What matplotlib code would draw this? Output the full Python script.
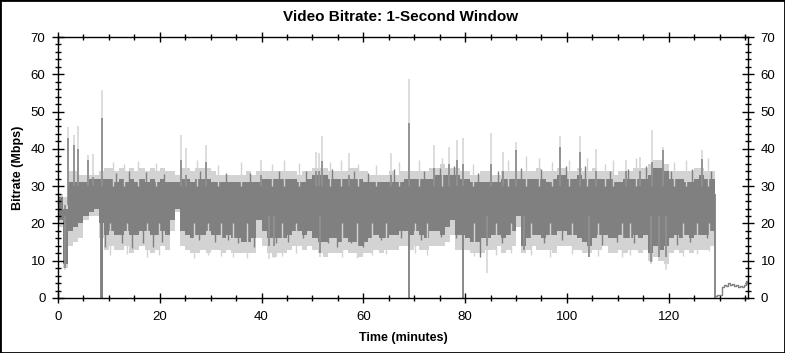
import numpy as np
import matplotlib; matplotlib.use("Agg")
import matplotlib.pyplot as plt
from matplotlib.ticker import MultipleLocator

plt.rcParams['font.family'] = ['Liberation Sans', 'DejaVu Sans']

LIGHT = "#d3d3d3"; DARK = "#808080"

# per-minute envelopes, minutes 0..128 (values in Mbps)
light_hi = [28,27,34,34,33,33,33,33,34,35, 35,34,35,34,35,34,35,34,35,34,
            35,34,34,33,35,35,34,35,35,35, 34,33,33,33,33,33,33,34,33,34,
            34,34,34,34,34,34,34,33,34,34, 35,35,35,34,34,34,34,35,35,34,
            34,33,33,33,33,34,33,34,34,34, 34,34,34,35,35,36,35,35,35,34,
            34,33,33,34,34,33,33,34,34,34, 34,34,34,34,35,34,34,34,35,35,
            34,34,35,34,34,35,34,34,34,33, 34,34,34,35,35,35,36,37,37,36,
            34,34,34,34,34,35,35,34,34]
dark_hi  = [27,24,31,31,31,31,32,32,32,32, 32,31,32,31,32,31,32,31,32,31,
            32,31,31,31,32,32,31,32,32,32, 31,31,31,31,31,31,31,31,31,31,
            32,32,32,32,32,32,32,31,31,32, 33,33,33,32,32,32,32,32,32,32,
            31,31,31,31,31,31,31,31,32,32, 32,32,32,32,33,33,33,33,33,32,
            32,31,31,31,31,31,31,32,32,32, 32,32,32,32,32,32,31,32,33,33,
            32,32,33,32,32,32,32,32,32,31, 31,32,32,32,32,32,33,35,35,34,
            32,32,32,31,31,32,33,32,32]
dark_lo  = [21, 9,18,19,20,22,23,24,20,17, 18,17,17,18,17,17,18,18,17,17,
            18,17,21,24,18,17,16,17,17,18, 17,17,16,17,16,16,15,15,16,21,
            18,16,16,16,16,17,18,18,17,18, 16,15,15,16,16,15,16,15,15,14,
            15,16,17,16,16,17,17,18,18,17, 18,17,16,18,18,17,19,21,17,17,
            16,15,15,16,16,17,17,16,17,18, 22,14,16,17,17,16,17,17,18,18,
            17,17,16,15,14,16,17,17,16,16, 17,16,16,17,16,17,12,14,13,14,
            16,17,16,17,16,17,17,17,18]
light_lo = [19, 8,14,15,16,21,22,22,16,13, 14,13,13,14,12,13,14,13,12,13,
            14,13,18,23,14,13,12,12,13,12, 13,13,12,13,12,12,12,12,12,16,
            14,12,11,12,12,13,14,14,13,14, 13,12,11,12,12,12,13,12,12,11,
            12,12,13,12,13,13,13,14,14,13, 14,13,13,14,14,14,15,17,13,13,
            13,12,12,12,13,13,14,12,13,14, 19,12,13,14,13,13,13,12,14,14,
            14,13,13,12,12,13,13,14,12,12, 13,12,13,13,12,13,10,11,10, 9,
            12,13,12,13,12,13,13,13,14]

# big upward spikes: minute, light peak, dark peak
up_t     = [1.9,3.1,4.0,5.8,6.9,8.6,24.2,25.2,29.1,39.9,50.7,51.3,51.9,57.2,65.4,69.0,73.9,76.8,
            78.4,79.5,85.1,87.5,90.0,98.6,102.6,105.8,111.7,114.4,116.8,118.9,126.5]
up_light = [45.9,43.7,46.1,38.3,38.6,55.8,43.7,40.2,41.0,37.0,39.2,38.8,43.4,39.0,38.8,58.7,41.0,40.6,
            42.4,43.0,44.3,39.2,41.9,43.4,43.4,39.9,36.9,37.9,45.0,40.6,39.7]
up_dark  = [42.8,41.0,40.0,37.0,32.5,48.4,37.0,33.0,36.5,33.0,34.0,34.0,36.8,33.0,33.0,47.0,35.0,36.0,
            37.0,36.0,36.0,34.0,39.7,40.6,39.2,34.0,34.0,34.0,36.5,39.8,37.2]
# big downward spikes: minute, light low, dark low
dn_t     = [1.3,41.5,42.5,51.5,84.3,91.5,104.3,116.5,118.2,119.4]
dn_light = [7.5,10.4,10.7,11.0,6.6,12.0,11.0,9.0,11.0,7.5]
dn_dark  = [8.0,14.0,14.0,12.0,14.0,12.9,11.1,9.7,11.1,11.0]

# smaller hairlines along the band edges
hair_dd_t = [9.2,12.5,14.5,16.8,18.7,20.4,27.8,30.8,33.4,35.4,38.6,42.9,45.2,48.1,53.0,54.9,57.6,
             59.9,63.5,67.4,71.3,75.3,78.2,83.0,87.3,95.5,99.1,107.0,109.8,113.1,121.6,124.2,127.5]
hair_dd_v = [13.7,14.7,13.3,14.7,13.7,15.1,15.5,15.1,15.5,14.7,13.7,14.7,15.1,16.0,14.7,13.7,14.7,
             13.7,15.5,16.0,15.5,16.4,16.0,10.9,14.7,14.7,15.5,14.3,15.1,14.7,14.3,15.1,16.0]
hair_ld_t = [10.3,13.6,17.5,19.8,26.8,29.5,32.0,34.3,37.2,44.0,46.8,55.8,58.7,61.8,64.5,70.2,72.5,
             81.8,86.0,89.0,93.0,96.6,101.0,106.2,110.8,112.4,122.8,125.5,128.0]
hair_ld_v = [11.5,11.8,11.0,11.6,10.7,11.5,11.3,11.0,10.8,11.2,12.0,11.0,10.8,11.5,11.8,12.0,11.6,
             11.2,11.5,12.0,11.4,11.0,11.8,11.3,11.0,11.5,11.2,11.8,12.5]
hair_lu_t = [10.8,13.0,15.8,19.2,27.3,31.5,35.9,42.0,44.5,47.3,53.5,55.6,59.0,62.5,67.0,71.0,75.5,
             81.5,88.5,92.0,94.5,97.0,100.5,104.0,107.5,109.0,113.5,121.0,123.5,127.8]
hair_lu_v = [36.5,36.0,36.8,36.2,37.0,35.8,36.5,36.0,37.0,36.2,36.5,37.0,36.0,35.8,36.5,37.0,37.5,
             36.0,37.0,38.0,37.5,36.5,37.0,37.5,36.0,37.0,37.5,36.5,37.0,37.5]
hair_du_t = [11.4,14.0,17.2,20.8,28.0,33.0,37.8,43.5,48.8,53.8,58.2,61.0,66.0,72.0,75.0,77.8,82.5,
             86.5,91.0,95.0,99.8,103.5,108.5,112.0,115.5,120.5,124.5,128.3]
hair_du_v = [33.5,34.0,33.8,33.2,34.0,33.5,33.5,34.0,34.0,34.5,34.0,33.5,34.5,34.0,35.0,35.5,33.5,
             34.0,35.0,34.5,35.5,35.5,34.0,34.5,35.5,34.0,34.5,34.0]

# drops to zero: minute, top of the drop line
drop_t   = [8.4,8.55,8.7,69.0,79.5,129.1]
drop_top = [30,30,30,30,28,28]
# tail after the end of the main title
tail_t = [129.2,129.6,130.0,130.4,130.8,131.2,131.6,132.0,132.4,132.8,133.2,133.6,134.0,134.4,134.8,135.2,135.5]
tail_v = [0.5,0.7,0.9,2.9,3.6,3.2,3.9,3.4,3.7,3.1,3.5,3.0,3.3,2.9,3.6,4.5,4.0]

W, H = 785, 353
fig = plt.figure(figsize=(W/100, H/100), dpi=100)
ax = fig.add_axes([58/W, 1-298/H, (748-58)/W, (298-37)/H])

mins = np.arange(len(light_hi) + 1, dtype=float); mins[-1] = 129.1
def ext(a): return list(a) + [a[-1]]
ax.fill_between(mins, ext(light_lo), ext(light_hi), step="post", color=LIGHT, lw=0)
ax.fill_between(mins, ext(dark_lo), ext(dark_hi), step="post", color=DARK, lw=0)
ax.vlines(hair_lu_t, 30, hair_lu_v, color=LIGHT, lw=1.0)
ax.vlines(hair_ld_t, hair_ld_v, 20, color=LIGHT, lw=1.0)
ax.vlines(hair_du_t, 28, hair_du_v, color=DARK, lw=1.0)
ax.vlines(hair_dd_t, hair_dd_v, 22, color=DARK, lw=1.0)
ax.vlines(up_t, 30, up_light, color=LIGHT, lw=1.1)
ax.vlines(up_t, 25, up_dark, color=DARK, lw=1.1)
ax.vlines(dn_t, dn_light, 22, color=LIGHT, lw=1.1)
ax.vlines(dn_t, dn_dark, 25, color=DARK, lw=1.1)
ax.vlines(drop_t, 0, drop_top, color=DARK, lw=1.3)
ax.plot(tail_t, tail_v, color=DARK, lw=1.0, drawstyle="steps-post")

ax.set_xlim(0, 135.6); ax.set_ylim(0, 70)
ax.xaxis.set_major_locator(MultipleLocator(20)); ax.xaxis.set_minor_locator(MultipleLocator(5))
ax.yaxis.set_major_locator(MultipleLocator(10)); ax.yaxis.set_minor_locator(MultipleLocator(2))
ax.tick_params(axis="both", which="both", labelsize=9.5, colors="black", width=1)
ax.tick_params(axis="x", which="major", direction="inout", length=7, top=True, pad=6)
ax.tick_params(axis="x", which="minor", direction="inout", length=4, top=True)
ax.tick_params(axis="y", which="major", direction="inout", length=8, right=True, labelright=True, pad=5)
ax.tick_params(axis="y", which="minor", direction="inout", length=5, right=True)
for s in ax.spines.values(): s.set_linewidth(1.0)

ax.set_xlabel("Time (minutes)", fontsize=9, fontweight="bold", labelpad=6)
ax.set_ylabel("Bitrate (Mbps)", fontsize=9, fontweight="bold", labelpad=5)
fig.text(401/W, 1-17/H, "Video Bitrate: 1-Second Window", ha="center", va="center",
         fontsize=11, fontweight="bold")
fig.patches.append(plt.Rectangle((0, 0), 1, 1, transform=fig.transFigure, fill=False, ec="black", lw=2))

fig.savefig("out.png", dpi=100)
